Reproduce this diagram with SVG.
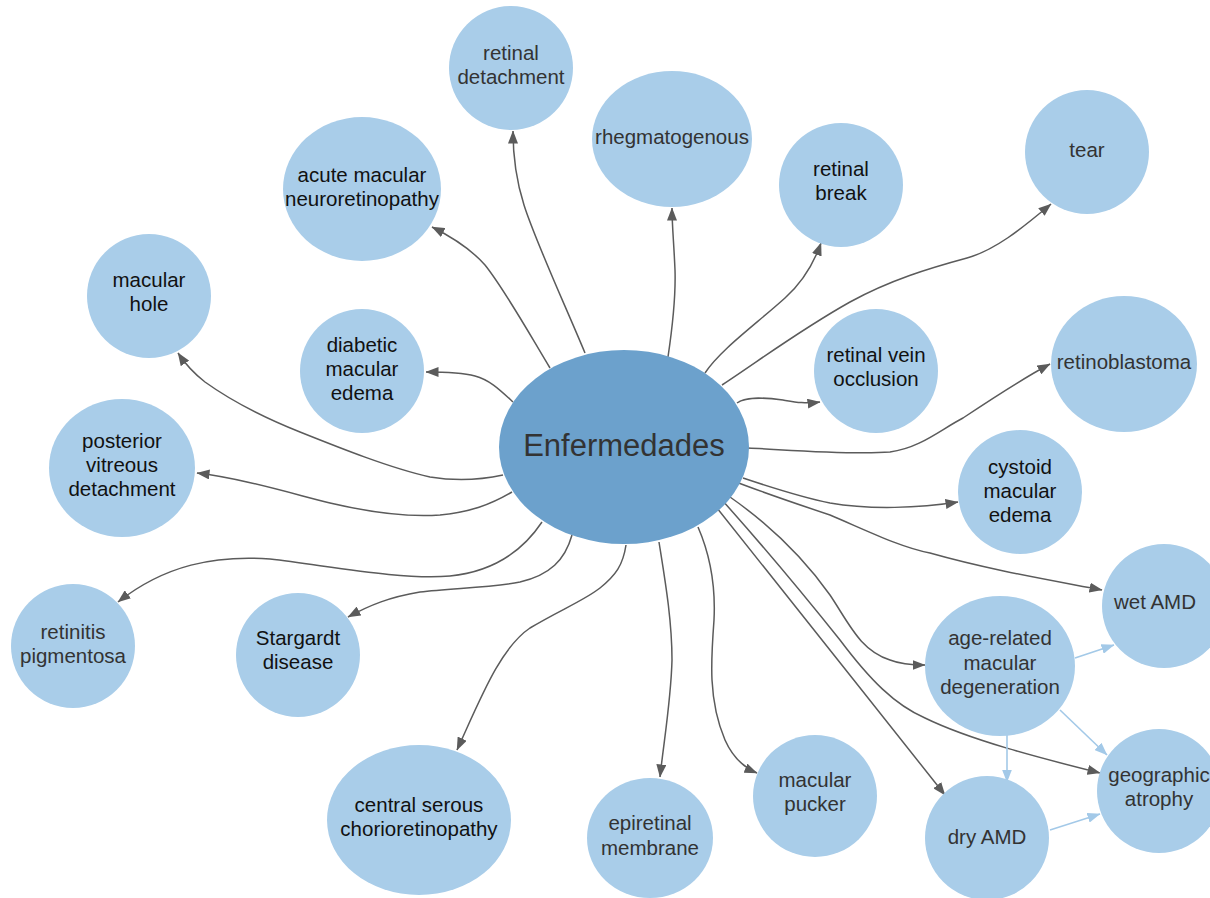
<svg xmlns="http://www.w3.org/2000/svg" width="1210" height="898" viewBox="0 0 1210 898">
  <style>
    .node { fill: #a9cde9; }
    .hub { fill: #6ca1cc; }
    text { font-family: "Liberation Sans", Arial, sans-serif; font-size: 20.5px; text-anchor: middle; }
    .dk { fill: #111111; }
    .gr { fill: #333333; }
    .hubtxt { fill: #333333; font-size: 31px; }
    .edge { fill: none; stroke: #5b5b5b; stroke-width: 1.5; marker-end: url(#arr); }
    .sub { fill: none; stroke: #a3c9e8; stroke-width: 1.6; marker-end: url(#arrL); }
  </style>
  <defs>
    <marker id="arr" viewBox="0 0 13 10" refX="12.5" refY="5" markerWidth="13" markerHeight="10" markerUnits="userSpaceOnUse" orient="auto">
      <path d="M0,0 L13,5 L0,10 z" fill="#5b5b5b"/>
    </marker>
    <marker id="arrL" viewBox="0 0 13 10" refX="12.5" refY="5" markerWidth="13" markerHeight="10" markerUnits="userSpaceOnUse" orient="auto">
      <path d="M0,0 L13,5 L0,10 z" fill="#a3c9e8"/>
    </marker>
  </defs>
  <rect width="1210" height="898" fill="#ffffff"/>

  <!-- connectors -->
  <g id="connectors">
    <path class="edge" d="M585,353 C565,305 535,240 524,205 C516,180 513,155 513,131"/>
    <path class="edge" d="M668,357 C672,330 676,300 675,270 C674,245 672,225 672,208"/>
    <path class="edge" d="M550,368 C530,335 505,290 485,265 C470,248 450,236 432,227"/>
    <path class="edge" d="M705,373 C720,350 755,325 785,298 C805,280 815,260 821,243"/>
    <path class="edge" d="M722,385 C760,360 800,330 850,302 C890,280 930,268 967,258 C995,250 1020,230 1051,204"/>
    <path class="edge" d="M737,403 C745,397 760,397 783,400 C795,402 805,404 820,402"/>
    <path class="edge" d="M748,448 C790,450 850,455 890,452 C920,448 940,430 963,418 C990,400 1020,380 1050,364"/>
    <path class="edge" d="M743,478 C770,487 800,497 830,503 C870,510 920,508 958,502"/>
    <path class="edge" d="M736,482 C770,495 800,505 830,515 C870,532 900,547 930,553 C990,570 1050,580 1102,590"/>
    <path class="edge" d="M730,497 C770,525 805,560 830,595 C850,625 860,650 890,660 C900,664 912,665 925,665"/>
    <path class="edge" d="M722,500 C765,548 800,590 840,640 C870,680 895,705 925,718 C970,740 1040,758 1100,773"/>
    <path class="edge" d="M717,508 C790,600 870,700 945,795"/>
    <path class="edge" d="M698,527 C708,550 716,580 714,620 C711,660 708,700 725,740 C733,758 745,768 757,773"/>
    <path class="edge" d="M659,542 C665,580 672,620 672,660 C671,700 664,740 660,777"/>
    <path class="edge" d="M626,545 C623,565 616,575 600,588 C585,600 560,610 530,628 C500,648 480,700 457,750"/>
    <path class="edge" d="M572,535 C565,560 550,575 520,582 C490,588 450,588 420,592 C390,597 370,605 348,617"/>
    <path class="edge" d="M542,522 C520,555 490,572 450,576 C400,580 330,566 270,559 C215,555 165,565 118,602"/>
    <path class="edge" d="M512,492 C490,505 470,512 440,515 C400,518 360,510 330,503 C290,493 240,478 197,473"/>
    <path class="edge" d="M503,475 C480,480 455,481 430,477 C390,468 340,448 300,432 C260,416 230,400 205,382 C192,372 184,362 178,353"/>
    <path class="edge" d="M513,402 C500,390 490,380 475,376 C460,372 440,372 426,372"/>
    <path class="sub" d="M1075,658 L1114,645"/>
    <path class="sub" d="M1060,710 L1107,755"/>
    <path class="sub" d="M1007,735 L1007,782"/>
    <path class="sub" d="M1050,830 L1100,814"/>
  </g>

  <!-- nodes -->
  <g id="enfermedades">
    <ellipse class="hub" cx="624" cy="447" rx="125" ry="97"/>
    <text class="hubtxt" x="624" y="456">Enfermedades</text>
  </g>
  <g id="retinal-detachment">
    <circle class="node" cx="511" cy="68" r="62"/>
    <text class="gr" x="511" y="60">retinal</text>
    <text class="gr" x="511" y="84">detachment</text>
  </g>
  <g id="rhegmatogenous">
    <ellipse class="node" cx="672" cy="139" rx="80" ry="68"/>
    <text class="gr" x="672" y="144">rhegmatogenous</text>
  </g>
  <g id="acute-macular-neuroretinopathy">
    <ellipse class="node" cx="362" cy="189" rx="79" ry="72"/>
    <text class="dk" x="362" y="182">acute macular</text>
    <text class="dk" x="362" y="206">neuroretinopathy</text>
  </g>
  <g id="retinal-break">
    <circle class="node" cx="841" cy="185" r="62"/>
    <text class="dk" x="841" y="176">retinal</text>
    <text class="dk" x="841" y="200">break</text>
  </g>
  <g id="tear">
    <circle class="node" cx="1087" cy="152" r="62"/>
    <text class="gr" x="1087" y="157">tear</text>
  </g>
  <g id="macular-hole">
    <circle class="node" cx="149" cy="296" r="62"/>
    <text class="dk" x="149" y="287">macular</text>
    <text class="dk" x="149" y="311">hole</text>
  </g>
  <g id="diabetic-macular-edema">
    <circle class="node" cx="362" cy="371" r="62"/>
    <text class="dk" x="362" y="352">diabetic</text>
    <text class="dk" x="362" y="376">macular</text>
    <text class="dk" x="362" y="400">edema</text>
  </g>
  <g id="retinal-vein-occlusion">
    <circle class="node" cx="876" cy="371" r="62"/>
    <text class="dk" x="876" y="362">retinal vein</text>
    <text class="dk" x="876" y="386">occlusion</text>
  </g>
  <g id="retinoblastoma">
    <ellipse class="node" cx="1124" cy="364" rx="73" ry="68"/>
    <text class="gr" x="1124" y="369">retinoblastoma</text>
  </g>
  <g id="posterior-vitreous-detachment">
    <ellipse class="node" cx="122" cy="468" rx="73" ry="69"/>
    <text class="dk" x="122" y="448">posterior</text>
    <text class="dk" x="122" y="472">vitreous</text>
    <text class="dk" x="122" y="496">detachment</text>
  </g>
  <g id="cystoid-macular-edema">
    <circle class="node" cx="1020" cy="492" r="62"/>
    <text class="dk" x="1020" y="474">cystoid</text>
    <text class="dk" x="1020" y="498">macular</text>
    <text class="dk" x="1020" y="522">edema</text>
  </g>
  <g id="retinitis-pigmentosa">
    <circle class="node" cx="73" cy="646" r="62"/>
    <text class="gr" x="73" y="639">retinitis</text>
    <text class="gr" x="73" y="663">pigmentosa</text>
  </g>
  <g id="stargardt-disease">
    <circle class="node" cx="298" cy="655" r="62"/>
    <text class="dk" x="298" y="645">Stargardt</text>
    <text class="dk" x="298" y="669">disease</text>
  </g>
  <g id="central-serous-chorioretinopathy">
    <ellipse class="node" cx="419" cy="820" rx="92" ry="75"/>
    <text class="dk" x="419" y="812">central serous</text>
    <text class="dk" x="419" y="836">chorioretinopathy</text>
  </g>
  <g id="epiretinal-membrane">
    <ellipse class="node" cx="650" cy="838" rx="63" ry="60"/>
    <text class="gr" x="650" y="830">epiretinal</text>
    <text class="gr" x="650" y="855">membrane</text>
  </g>
  <g id="macular-pucker">
    <ellipse class="node" cx="815" cy="796" rx="62" ry="61"/>
    <text class="gr" x="815" y="787">macular</text>
    <text class="gr" x="815" y="811">pucker</text>
  </g>
  <g id="wet-amd">
    <circle class="node" cx="1164" cy="606" r="62"/>
    <text class="gr" x="1155" y="609">wet AMD</text>
  </g>
  <g id="age-related-macular-degeneration">
    <ellipse class="node" cx="1000" cy="666" rx="75" ry="70"/>
    <text class="gr" x="1000" y="645">age-related</text>
    <text class="gr" x="1000" y="670">macular</text>
    <text class="gr" x="1000" y="694">degeneration</text>
  </g>
  <g id="geographic-atrophy">
    <circle class="node" cx="1159" cy="791" r="62"/>
    <text class="gr" x="1159" y="782">geographic</text>
    <text class="gr" x="1159" y="806">atrophy</text>
  </g>
  <g id="dry-amd">
    <circle class="node" cx="987" cy="838" r="62"/>
    <text class="gr" x="987" y="844">dry AMD</text>
  </g>
</svg>
